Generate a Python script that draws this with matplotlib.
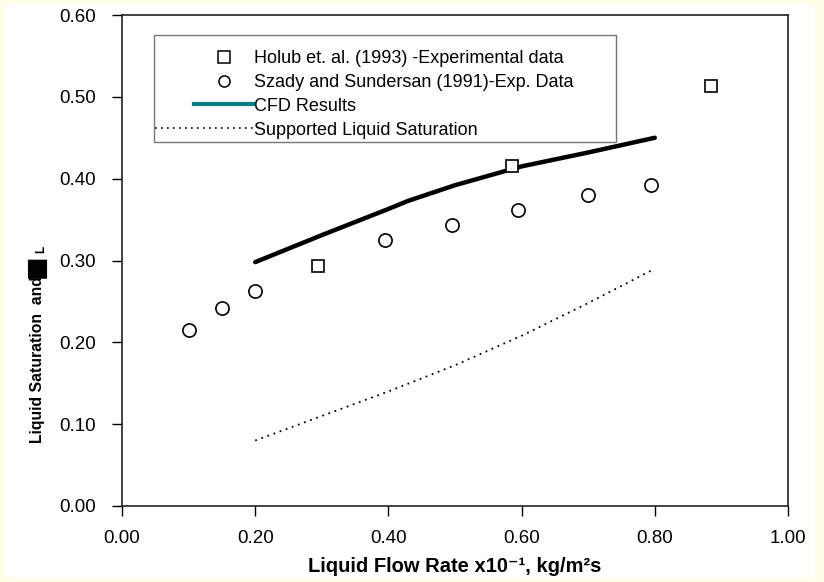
import matplotlib
matplotlib.use("Agg")
import matplotlib.pyplot as plt
from matplotlib.lines import Line2D
from matplotlib.patches import Rectangle
from matplotlib.legend_handler import HandlerLine2D

plt.rcParams['font.family'] = ['Liberation Sans', 'DejaVu Sans']

# Holub et al. (1993) experimental points
holub_x = [0.295, 0.585, 0.885]
holub_y = [0.293, 0.415, 0.513]

# Szady and Sundersan (1991) experimental points
szady_x = [0.10, 0.15, 0.20, 0.395, 0.495, 0.595, 0.70, 0.795]
szady_y = [0.215, 0.242, 0.263, 0.325, 0.343, 0.362, 0.380, 0.392]

# CFD results
cfd_x = [0.20, 0.30, 0.40, 0.43, 0.50, 0.60, 0.70, 0.80]
cfd_y = [0.298, 0.331, 0.363, 0.373, 0.392, 0.415, 0.432, 0.450]

# supported liquid saturation
sup_x = [0.20, 0.30, 0.40, 0.50, 0.60, 0.70, 0.80]
sup_y = [0.080, 0.110, 0.140, 0.172, 0.208, 0.248, 0.290]

xticks = [0.0, 0.2, 0.4, 0.6, 0.8, 1.0]
yticks = [0.0, 0.1, 0.2, 0.3, 0.4, 0.5, 0.6]


class LongLineHandler(HandlerLine2D):
    """Legend line that reaches further to the left than the other handles."""
    def __init__(self, extra, **kw):
        super().__init__(**kw)
        self.extra = extra

    def get_xdata(self, legend, xdescent, ydescent, width, height, fontsize):
        xdata, xmark = super().get_xdata(legend, xdescent, ydescent,
                                         width, height, fontsize)
        xdata = [xdata[0] - self.extra, xdata[-1]]
        return xdata, xmark


W, H = 824, 582
fig = plt.figure(figsize=(W / 100, H / 100), dpi=100, facecolor='#FFFFE8')
# white chart area inside the pale border
fig.patches.append(Rectangle((4 / W, 4 / H), 809 / W, 574 / H,
                             transform=fig.transFigure, facecolor='white',
                             edgecolor='none', zorder=-5))

L, T, R, B = 122, 15, 788, 506
ax = fig.add_axes([L / W, 1 - B / H, (R - L) / W, (B - T) / H])
ax.set_facecolor('white')

ax.plot(sup_x, sup_y, color='black', lw=1.3, linestyle=(0, (1, 2.6)))
ax.plot(cfd_x, cfd_y, color='black', lw=3.2, solid_capstyle='round')
ax.plot(szady_x, szady_y, linestyle='none', marker='o', ms=9.5,
        mfc='white', mec='black', mew=1.2)
ax.plot(holub_x, holub_y, linestyle='none', marker='s', ms=9,
        mfc='white', mec='black', mew=1.2)

ax.set_xlim(0, 1)
ax.set_ylim(0, 0.6)
ax.set_xticks(xticks)
ax.set_yticks(yticks)
ax.set_xticklabels([f"{v:.2f}" for v in xticks])
ax.set_yticklabels([f"{v:.2f}" for v in yticks])
ax.tick_params(direction='out', length=7, width=1, labelsize=13.5)
ax.tick_params(axis='x', pad=10)
ax.tick_params(axis='y', pad=12)
for sp in ax.spines.values():
    sp.set_linewidth(1.2)
    sp.set_color('#222222')

ax.set_xlabel("Liquid Flow Rate x10⁻¹, kg/m²s",
              fontsize=14.5, fontweight='bold', va='center')
ax.xaxis.set_label_coords(0.5, -(567 - B) / (B - T))

# y title: text, a filled box glyph, then a subscript L
fig.text(38 / W, 1 - 360 / H, "Liquid Saturation  and", rotation=90,
         ha='center', va='center', fontsize=11.3, fontweight='bold')
fig.text(36 / W, 1 - 266 / H, "■", rotation=90, ha='center', va='center',
         fontsize=18, family='DejaVu Sans')
fig.text(41 / W, 1 - 249 / H, "L", rotation=90, ha='center', va='center',
         fontsize=8.5, fontweight='bold')

# legend frame drawn separately, entries placed inside it
ax.add_patch(Rectangle(((154 - L) / (R - L), 1 - (142 - T) / (B - T)),
                       (616 - 154) / (R - L), (142 - 35) / (B - T),
                       transform=ax.transAxes, facecolor='white',
                       edgecolor='#777777', lw=1.0, zorder=4))
sup_handle = Line2D([], [], color='black', lw=1.2, linestyle=(0, (1, 2.6)))
handles = [
    Line2D([], [], linestyle='none', marker='s', ms=8, mfc='white', mec='black', mew=1.1),
    Line2D([], [], linestyle='none', marker='o', ms=8, mfc='white', mec='black', mew=1.1),
    Line2D([], [], color='#008080', lw=3),
    sup_handle,
]
labels = ["Holub et. al. (1993) -Experimental data",
          "Szady and Sundersan (1991)-Exp. Data",
          "CFD Results",
          "Supported Liquid Saturation"]
leg = ax.legend(handles, labels, loc='upper left',
                bbox_to_anchor=((194 - L) / (R - L), 1 - (50 - T) / (B - T)),
                fontsize=13, frameon=False, handlelength=3.3,
                handletextpad=0.0, labelspacing=0.38, borderpad=0,
                borderaxespad=0,
                handler_map={sup_handle: LongLineHandler(extra=28)})
leg.set_zorder(5)

fig.savefig('out.png', dpi=100, facecolor=fig.get_facecolor())
